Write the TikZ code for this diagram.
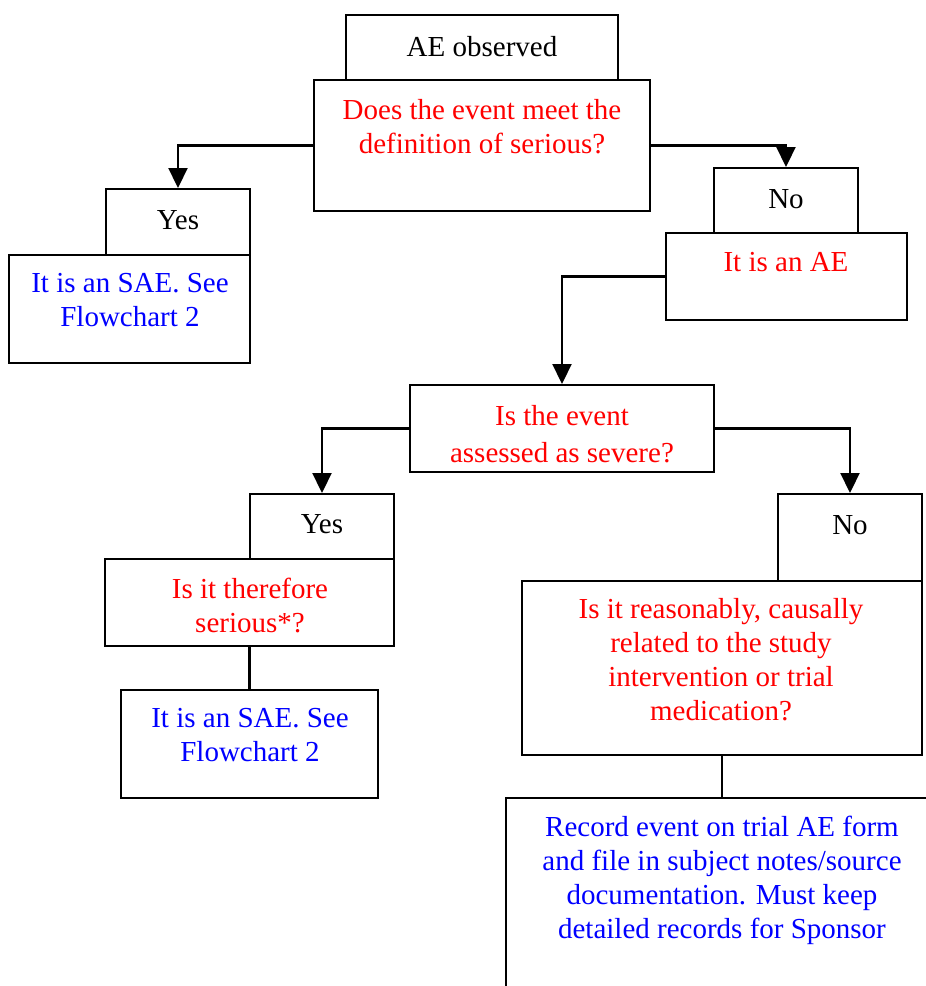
\documentclass[tikz,border=0pt]{standalone}
\usepackage{fontspec}
\setmainfont{Liberation Serif}
\usetikzlibrary{arrows.meta}
\definecolor{qred}{RGB}{255,0,0}
\definecolor{ablue}{RGB}{0,0,255}
\tikzset{
  box/.style={draw, line width=2pt, fill=white, inner sep=0pt},
  txt/.style={align=center, inner sep=0pt, font=\fontsize{29}{34}\selectfont},
  conn/.style={line width=2.2pt},
  arr/.style={conn, -{Triangle[width=19pt,length=20pt]}},
}
\begin{document}
\begin{tikzpicture}[x=1pt,y=-1pt]
\useasboundingbox (0,0) rectangle (926,986);
\clip (0,0) rectangle (926,986);
% boxes
\node[box, minimum width=272, minimum height=65] (ae) at (482,47.5) {};
\node[box, minimum width=336, minimum height=131] (q1) at (482,145.5) {};
\node[box, minimum width=144, minimum height=66] (yes1) at (178,222) {};
\node[box, minimum width=241, minimum height=108] (sae1) at (129.5,309) {};
\node[box, minimum width=144, minimum height=65] (no1) at (786,200.5) {};
\node[box, minimum width=241, minimum height=87] (aebox) at (786.5,276.5) {};
\node[box, minimum width=304, minimum height=87] (sev) at (562,428.5) {};
\node[box, minimum width=144, minimum height=65] (yes2) at (322,526.5) {};
\node[box, minimum width=289, minimum height=87] (ser) at (249.5,602.5) {};
\node[box, minimum width=257, minimum height=108] (sae2) at (249.5,744) {};
\node[box, minimum width=144, minimum height=87] (no2) at (850,537.5) {};
\node[box, minimum width=400, minimum height=174] (caus) at (722,668) {};
\node[box, minimum width=432, minimum height=212] (rec) at (722,904) {};
% texts
\node[txt] (tae) at (482,47) {AE observed};
\node[txt, text=qred] (tq1) at (482,127) {Does the event meet the\\definition of serious?};
\node[txt] (tyes1) at (178,220) {Yes};
\node[txt, text=ablue] (tsae1) at (130,300) {It is an SAE. See\\Flowchart 2};
\node[txt] (tno1) at (786,199) {No};
\node[txt, text=qred] (taebox) at (786,262) {It is an AE};
\node[txt, text=qred, font=\fontsize{29}{37}\selectfont] (tsev) at (562,434.5) {Is the event\\assessed as severe?};
\node[txt] (tyes2) at (322,524) {Yes};
\node[txt, text=qred] (tser) at (250,605.5) {Is it therefore\\serious*?};
\node[txt, text=ablue] (tsae2) at (250,735) {It is an SAE. See\\Flowchart 2};
\node[txt] (tno2) at (850,525) {No};
\node[txt, text=qred] (tcaus) at (721,660) {Is it reasonably, causally\\related to the study\\intervention or trial\\medication?};
\node[txt, text=ablue] (trec) at (722,880) {Record event on trial AE form\\and file in subject notes/source\\documentation. Must keep\\detailed records for Sponsor};
% connectors
\draw[arr] (q1.west) -| (yes1.north);
\draw[arr] (q1.east) -| (no1.north);
\draw[arr] (aebox.west) -| (sev.north);
\draw[arr] (sev.west) -| (yes2.north);
\draw[arr] (sev.east) -| (no2.north);
\draw[conn] (ser.south) -- (sae2.north);
\draw[conn] (caus.south) -- (rec.north);
\end{tikzpicture}
\end{document}
